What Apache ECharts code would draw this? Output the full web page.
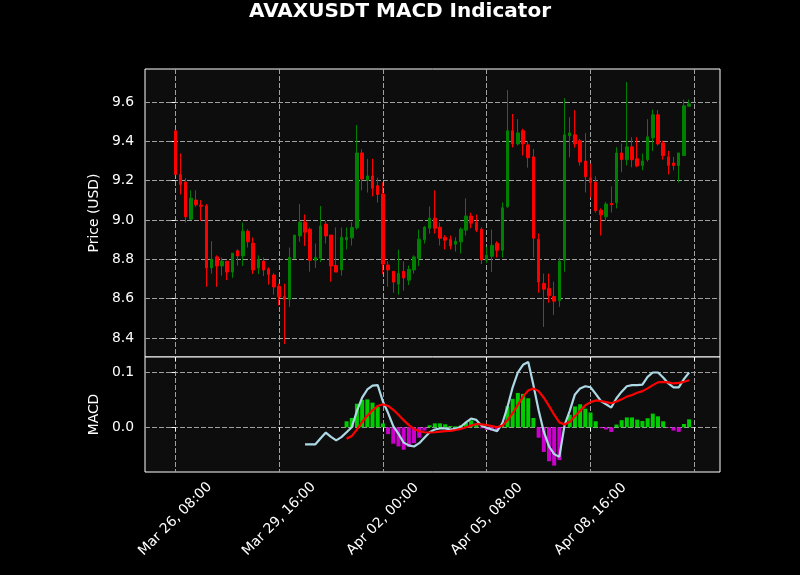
<!DOCTYPE html>
<html><head><meta charset="utf-8">
<script src="https://cdn.jsdelivr.net/npm/echarts@6/dist/echarts.min.js"></script>
<style>html,body{margin:0;padding:0;background:#000}#c{width:800px;height:575px}</style>
</head><body><div id="c"></div>
<script>
// ---- data ----
const startTime = Date.UTC(2025, 2, 26, 8, 0); // first candle: Mar 26, 08:00
const stepHours = 4;
const opens  = [9.454,9.232,9.193,9.004,9.101,9.075,9.072,8.756,8.812,8.766,8.790,8.735,8.843,8.817,8.943,8.882,8.756,8.791,8.751,8.720,
                8.662,8.611,8.597,8.805,8.919,8.989,8.953,8.795,8.805,8.979,8.923,8.769,8.746,8.899,8.909,8.960,9.341,9.202,9.224,9.174,
                9.132,8.771,8.739,8.674,8.739,8.694,8.746,8.805,8.899,8.958,9.009,8.963,8.912,8.902,8.877,8.889,8.948,9.020,8.989,8.953,
                8.795,8.815,8.882,8.846,9.067,9.454,9.387,9.454,9.382,9.321,8.902,8.677,8.652,8.611,8.589,8.795,9.428,9.433,9.403,9.300,
                9.214,9.193,9.050,9.016,9.084,9.088,9.341,9.307,9.372,9.311,9.277,9.307,9.418,9.535,9.392,9.321,9.290,9.277,9.328,9.578];
const closes = [9.231,9.180,9.016,9.111,9.077,9.070,8.756,8.800,8.766,8.791,8.735,8.831,8.817,8.943,8.889,8.746,8.800,8.746,8.723,8.659,
                8.608,8.596,8.810,8.923,8.989,8.938,8.795,8.810,8.969,8.919,8.766,8.735,8.912,8.912,8.962,9.341,9.208,9.224,9.161,9.130,
                8.776,8.746,8.684,8.729,8.705,8.749,8.812,8.902,8.963,9.009,8.958,8.907,8.897,8.868,8.892,8.953,9.020,8.984,8.948,8.797,
                8.820,8.871,8.846,9.062,9.454,9.387,9.443,9.387,9.317,8.907,8.684,8.648,8.616,8.587,8.790,9.433,9.443,9.387,9.295,9.220,
                9.190,9.047,9.026,9.081,9.077,9.341,9.307,9.372,9.307,9.275,9.300,9.423,9.535,9.387,9.328,9.277,9.277,9.341,9.581,9.591];
const lows   = [9.231,9.130,8.987,9.001,9.067,8.996,8.660,8.727,8.660,8.717,8.694,8.706,8.768,8.766,8.860,8.725,8.725,8.715,8.671,8.620,
                8.565,8.369,8.558,8.805,8.889,8.868,8.737,8.756,8.786,8.880,8.686,8.735,8.717,8.850,8.870,8.951,9.151,9.140,9.120,9.089,
                8.725,8.660,8.630,8.620,8.640,8.669,8.727,8.766,8.880,8.931,8.931,8.870,8.850,8.850,8.839,8.829,8.921,8.958,8.938,8.776,
                8.780,8.735,8.809,8.809,9.062,9.369,9.379,9.328,9.266,8.809,8.630,8.456,8.579,8.517,8.558,8.737,9.319,9.369,9.277,9.140,
                9.115,9.037,8.921,8.996,9.038,9.059,9.243,9.277,9.268,9.268,9.253,9.297,9.351,9.379,9.307,9.232,9.253,9.191,9.328,9.578];
const highs  = [9.454,9.338,9.212,9.151,9.151,9.101,9.081,8.892,8.820,8.809,8.790,8.831,8.851,8.987,8.953,8.911,8.820,8.809,8.759,8.729,
                8.676,8.676,8.860,8.923,9.081,9.028,8.962,8.880,9.071,8.996,8.923,8.962,8.962,8.962,8.989,9.483,9.360,9.311,9.311,9.215,
                9.191,8.790,8.739,8.849,8.790,8.768,8.820,8.951,8.969,9.069,9.151,8.987,8.923,8.921,8.912,8.962,9.110,9.037,9.028,8.963,
                8.863,8.951,8.892,9.089,9.661,9.539,9.513,9.464,9.401,9.362,8.931,8.727,8.727,8.686,8.809,9.620,9.523,9.559,9.413,9.442,
                9.287,9.222,9.059,9.091,9.171,9.370,9.389,9.702,9.421,9.421,9.338,9.513,9.561,9.559,9.403,9.351,9.321,9.341,9.612,9.612];
// MACD line starts at candle index 25, signal & histogram at candle index 33
const macdStart = 25;
const macdValues = [-0.0313,-0.0313,-0.031,-0.020,-0.0096,-0.0175,-0.024,-0.018,-0.009,0.000,
                    0.030,0.054,0.069,0.076,0.077,0.047,0.026,0.002,-0.012,-0.028,
                    -0.033,-0.035,-0.029,-0.019,-0.009,-0.004,-0.002,-0.002,-0.004,-0.003,
                    0.001,0.009,0.016,0.0135,0.003,-0.001,-0.004,-0.007,0.007,0.037,
                    0.073,0.100,0.114,0.119,0.077,0.031,-0.008,-0.035,-0.049,-0.054,
                    0.004,0.030,0.060,0.071,0.075,0.073,0.061,0.048,0.042,0.036,
                    0.053,0.065,0.075,0.077,0.077,0.078,0.092,0.100,0.100,0.091,
                    0.080,0.073,0.073,0.088,0.100];
const signalStart = 33;
const signalValues = [-0.021,-0.016,-0.004,0.010,0.021,0.031,0.039,0.042,0.039,0.032,
                      0.023,0.013,0.004,-0.003,-0.007,-0.009,-0.0095,-0.009,-0.008,-0.007,
                      -0.0065,-0.005,-0.003,0.000,0.003,0.006,0.0055,0.004,0.002,0.000,
                      0.003,0.013,0.026,0.041,0.056,0.067,0.071,0.066,0.054,0.039,
                      0.023,0.009,0.005,0.010,0.020,0.030,0.040,0.046,0.049,0.048,
                      0.046,0.044,0.047,0.051,0.056,0.059,0.063,0.066,0.071,0.077,
                      0.082,0.083,0.082,0.080,0.081,0.083,0.086];
const histValues = [0.011,0.017,0.043,0.050,0.051,0.045,0.037,0.007,-0.0125,-0.030,
                    -0.035,-0.041,-0.036,-0.029,-0.019,-0.006,0.0036,0.0072,0.0072,0.0055,
                    0.0024,0.0018,0.0036,0.0084,0.0127,0.0072,-0.0018,-0.005,-0.006,-0.006,
                    0.004,0.0386,0.052,0.0627,0.061,0.053,0.017,-0.019,-0.045,-0.062,
                    -0.070,-0.060,-0.001,0.023,0.038,0.042,0.034,0.027,0.011,-0.0015,
                    -0.004,-0.0085,0.005,0.013,0.018,0.018,0.014,0.0115,0.0165,0.025,
                    0.020,0.011,-0.001,-0.006,-0.0084,0.006,0.0145];
const priceTicks = [8.4, 8.6, 8.8, 9.0, 9.2, 9.4, 9.6];
const macdTicks = [0.0, 0.1];
const xTickHours = [0, 80, 160, 240, 320, 400];
const xLabelHours = [0, 80, 160, 240, 320];

// ---- build ----
const hourOf = i => i * stepHours;
const candleData = opens.map((o, i) => [hourOf(i), o, closes[i], lows[i], highs[i]]);
const macdData = macdValues.map((v, k) => [hourOf(macdStart + k), v]);
const signalData = signalValues.map((v, k) => [hourOf(signalStart + k), v]);
const histData = histValues.map((v, k) => [hourOf(signalStart + k), v]);

const MON = ['Jan','Feb','Mar','Apr','May','Jun','Jul','Aug','Sep','Oct','Nov','Dec'];
const p2 = n => String(n).padStart(2, '0');
function fmtHour(h) {
  const d = new Date(startTime + Math.round(h) * 3600000);
  return MON[d.getUTCMonth()] + ' ' + p2(d.getUTCDate()) + ', ' + p2(d.getUTCHours()) + ':' + p2(d.getUTCMinutes());
}

const FONT = 'DejaVu Sans';
const FS = 13.9;
const gridLine = { show: true, lineStyle: { color: '#a0a0a0', width: 1, type: [5, 2] } };
const xMin = -23.35, xMax = 419.8;

const chart = echarts.init(document.getElementById('c'), null, { renderer: 'canvas' });
chart.setOption({
  backgroundColor: '#000',
  animation: false,
  textStyle: { fontFamily: FONT },
  title: {
    text: 'AVAXUSDT MACD Indicator', left: 'center', top: -3,
    textStyle: { color: '#fff', fontSize: 20, fontWeight: 'bold', fontFamily: FONT }
  },
  grid: [
    { left: 145, right: 80, top: 69, height: 288, show: true, backgroundColor: '#0d0d0d', borderColor: '#fff', borderWidth: 1 },
    { left: 145, right: 80, top: 357, height: 115, show: true, backgroundColor: '#0d0d0d', borderColor: '#fff', borderWidth: 1 }
  ],
  xAxis: [
    { type: 'value', gridIndex: 0, min: xMin, max: xMax,
      axisLine: { show: false },
      axisTick: { show: true, customValues: xTickHours, length: 4, lineStyle: { color: '#fff' } },
      axisLabel: { show: false, customValues: xLabelHours },
      splitLine: gridLine },
    { type: 'value', gridIndex: 1, min: xMin, max: xMax,
      axisLine: { show: false },
      axisTick: { show: true, customValues: xTickHours, length: 4, lineStyle: { color: '#fff' } },
      axisLabel: { show: true, customValues: xLabelHours, rotate: 45, align: 'center', verticalAlign: 'middle',
                   margin: 47, color: '#fff', fontSize: FS, fontFamily: FONT, formatter: v => fmtHour(v) },
      splitLine: gridLine }
  ],
  yAxis: [
    { type: 'value', gridIndex: 0, min: 8.303, max: 9.768,
      name: 'Price (USD)', nameLocation: 'middle', nameGap: 39,
      nameTextStyle: { color: '#fff', fontSize: FS, fontFamily: FONT },
      axisLine: { show: false },
      axisTick: { show: true, customValues: priceTicks, length: 4, lineStyle: { color: '#fff' } },
      axisLabel: { customValues: priceTicks, color: '#fff', fontSize: FS, fontFamily: FONT, margin: 11, formatter: v => v.toFixed(1) },
      splitLine: gridLine },
    { type: 'value', gridIndex: 1, min: -0.0816, max: 0.1283,
      name: 'MACD', nameLocation: 'middle', nameGap: 39,
      nameTextStyle: { color: '#fff', fontSize: FS, fontFamily: FONT },
      axisLine: { show: false },
      axisTick: { show: true, customValues: macdTicks, length: 4, lineStyle: { color: '#fff' } },
      axisLabel: { customValues: macdTicks, color: '#fff', fontSize: FS, fontFamily: FONT, margin: 11, formatter: v => v.toFixed(1) },
      splitLine: gridLine }
  ],
  series: [
    { type: 'candlestick', xAxisIndex: 0, yAxisIndex: 0, data: candleData,
      encode: { x: 0, y: [1, 2, 3, 4] }, barWidth: 3,
      itemStyle: { color: '#008000', color0: '#ff0000', borderColor: '#008000', borderColor0: '#ff0000', borderWidth: 1 } },
    { type: 'bar', xAxisIndex: 1, yAxisIndex: 1, data: histData, barWidth: 4,
      itemStyle: { color: p => (p.value[1] >= 0 ? '#00cc00' : '#cc00cc') } },
    { type: 'line', xAxisIndex: 1, yAxisIndex: 1, data: macdData, symbol: 'none',
      lineStyle: { color: '#add8e6', width: 2.2 }, z: 3 },
    { type: 'line', xAxisIndex: 1, yAxisIndex: 1, data: signalData, symbol: 'none',
      lineStyle: { color: '#ff0000', width: 2.2 }, z: 4 }
  ]
});
</script>
</body></html>
